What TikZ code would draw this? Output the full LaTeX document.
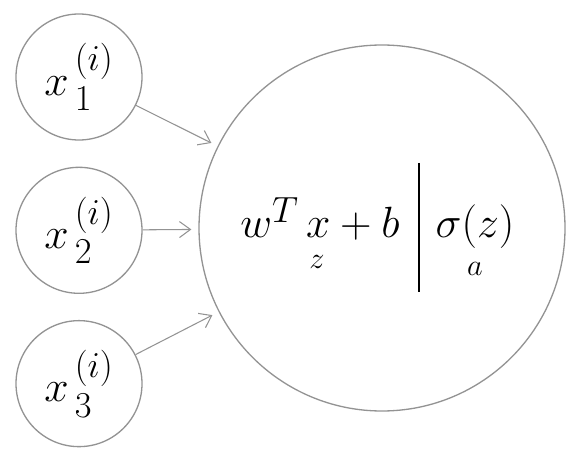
\documentclass[tikz,border=0pt]{standalone}
\usepackage{amsmath}
\usetikzlibrary{arrows.meta, positioning}

\begin{document}
\begin{tikzpicture}[
        node distance=0.52cm,
        input/.style={circle, draw=gray!85, line width=0.75pt, minimum size=2.52cm, inner sep=0pt, font=\Huge},
        neuron/.style={circle, draw=gray!85, line width=0.75pt, minimum size=7.32cm},
        term/.style={anchor=base, font=\Huge},
        sub/.style={anchor=base, font=\LARGE},
        arrow/.style={-{Straight Barb[length=2.2mm, width=3.2mm]}, gray!85, line width=0.6pt, shorten >=0.14cm}
    ]
        \useasboundingbox (0,0) rectangle (11.64,9.12);

        \node[input] (x1) at (1.58,7.58) {$x^{\,(i)}_{\,1}$};
        \node[input, below=of x1] (x2) {$x^{\,(i)}_{\,2}$};
        \node[input, below=of x2] (x3) {$x^{\,(i)}_{\,3}$};
        \node[neuron] (unit) at (7.64,4.56) {};

        % linear part and activation
        \node[term] (lin) at (6.40,4.36) {$w^T\, x + b$};
        \node[sub] (z) at (6.34,3.76) {$z$};
        \node[term] (act) at (9.50,4.36) {$\sigma(z)$};
        \node[sub] (a) at (9.50,3.62) {$a$};
        \coordinate (divtop) at (8.38,5.86);
        \coordinate (divbot) at (8.38,3.28);
        \draw[line width=1.1pt] (divtop) -- (divbot);

        \draw[arrow] (x1) -- (unit);
        \draw[arrow] (x2) -- (unit);
        \draw[arrow] (x3) -- (unit);
    \end{tikzpicture}
\end{document}
